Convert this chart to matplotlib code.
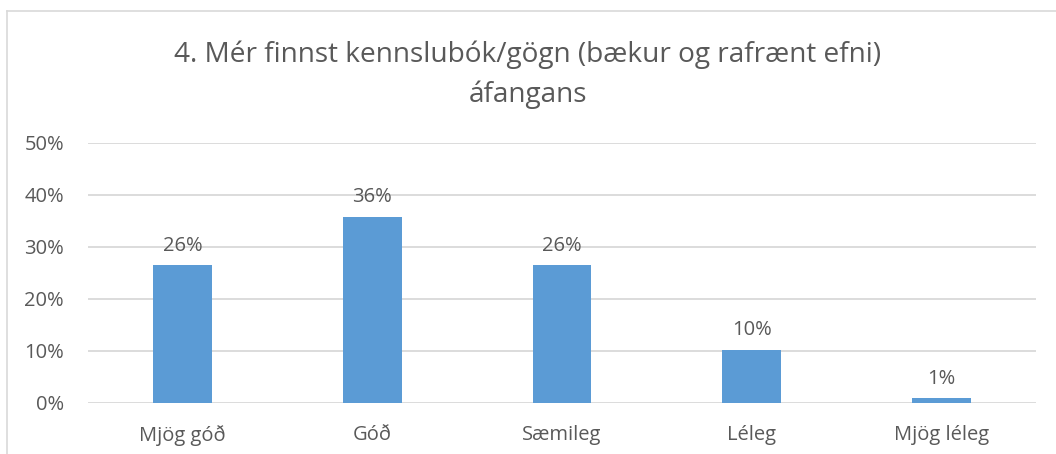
import matplotlib.pyplot as plt
from matplotlib.lines import Line2D
from matplotlib.ticker import PercentFormatter

categories = ["Mjög góð", "Góð", "Sæmileg", "Léleg", "Mjög léleg"]
values = [26.4, 35.8, 26.4, 10.2, 0.8]
labels = ["26%", "36%", "26%", "10%", "1%"]
title = "4. Mér finnst kennslubók/gögn (bækur og rafrænt efni)\náfangans"

plt.rcParams["font.family"] = ["Open Sans", "DejaVu Sans"]
grey = "#595959"

W, H = 1056, 454
fig = plt.figure(figsize=(W / 100, H / 100), dpi=100)
ax = fig.add_axes([87.6 / W, 1 - 402.5 / H, (1036.4 - 87.6) / W, (402.5 - 143) / H])

x = range(len(categories))
ax.bar(x, values, width=0.31, color="#5B9BD5", zorder=3)
for xi, v, lab in zip(x, values, labels):
    ax.annotate(lab, (xi, v), xytext=(0, 7), textcoords="offset points",
                ha="center", va="bottom", fontsize=14.5, color=grey)

ax.set_xlim(-0.5, len(categories) - 0.5)
ax.set_ylim(0, 50)
ax.set_yticks(range(0, 51, 10))
ax.yaxis.set_major_formatter(PercentFormatter(decimals=0))
ax.set_xticks(list(x))
ax.set_xticklabels(categories)
ax.grid(axis="y", color="#D9D9D9", linewidth=1.3, zorder=0)
ax.tick_params(length=0, labelsize=14.5, colors=grey)
ax.tick_params(axis="x", pad=16)
ax.tick_params(axis="y", pad=17)
for s in ax.spines.values():
    s.set_visible(False)

fig.text(0.5, 1 - 75 / H, title, ha="center", va="center", fontsize=20.2,
         color=grey, linespacing=1.55)

# chart border (top and left only visible)
fig.add_artist(Line2D([7 / W, 1], [1 - 11 / H, 1 - 11 / H], color="#D9D9D9", lw=1.2))
fig.add_artist(Line2D([7 / W, 7 / W], [0, 1 - 11 / H], color="#D9D9D9", lw=1.2))

fig.savefig("out.png", dpi=100)
